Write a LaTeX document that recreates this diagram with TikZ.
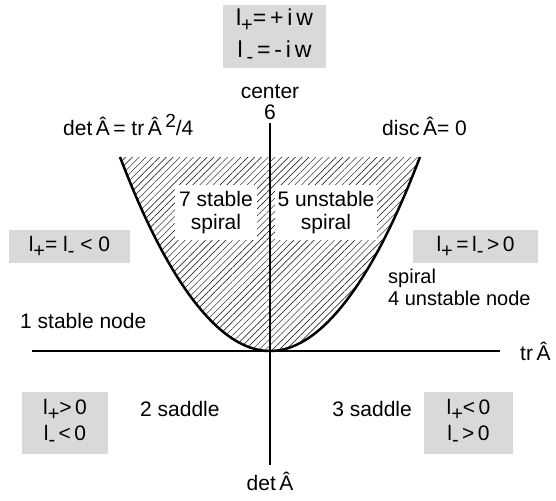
\documentclass[tikz,border=0pt]{standalone}
\usepackage{fontspec}
\setmainfont{Liberation Sans}
\usetikzlibrary{patterns.meta}
\definecolor{boxgray}{RGB}{217,217,217}
\newcommand\lsb[1]{\raisebox{-6pt}{\fontsize{20}{20}\selectfont#1}}
\newcommand\hsp[1]{\raisebox{7pt}{\fontsize{19}{20}\selectfont#1}}
\tikzset{
  lbl/.style={font=\fontsize{21}{24}\selectfont, inner sep=0pt},
  graybox/.style={fill=boxgray, inner sep=0pt, font=\fontsize{21}{26}\selectfont, align=center},
  whitebox/.style={fill=white, inner sep=0pt, font=\fontsize{21}{23}\selectfont, align=center},
  axisline/.style={line width=1.2pt},
  curveline/.style={line width=2.5pt},
}
\begin{document}
\begin{tikzpicture}[x=1pt,y=-1pt]
\useasboundingbox (0,0) rectangle (556,500);
% hatched region
\fill[pattern={Lines[angle=45,distance=4.8pt,line width=0.45pt]}]
  (120,157) parabola bend (270,351) (420,157) -- cycle;
% white label boxes
\node[whitebox, minimum width=82pt, minimum height=55pt] (s7) at (216,212.5) {7 stable\\spiral};
\node[whitebox, minimum width=102pt, minimum height=55pt] (s5) at (326,212.5) {5 unstable\\spiral};
% axes
\coordinate (ytop) at (270,123);
\coordinate (ybot) at (270,465);
\coordinate (xl) at (32,351);
\coordinate (xr) at (500,351);
\draw[axisline] (ytop) -- (ybot);
\draw[axisline] (xl) -- (xr);
% parabola
\coordinate (pl) at (120,157);
\coordinate (pv) at (270,351);
\coordinate (pr) at (420,157);
\draw[curveline] (pl) parabola bend (pv) (pr);
% gray boxes
\node[graybox, minimum width=103pt, minimum height=63pt, font=\fontsize{23}{32}\selectfont] (top) at (274.5,36.5)
  {l\lsb{+}=\,+\,i\,w\\l\,\lsb{-}\,=\,-\,i\,w};
\node[graybox, minimum width=121pt, minimum height=33pt] (lb) at (69.5,246.5)
  {l\lsb{+}= l\lsb{-} < 0};
\node[graybox, minimum width=125pt, minimum height=33pt] (rb) at (475.5,246.5)
  {l\lsb{+}\,=\,l\lsb{-}\,>\,0};
\node[graybox, minimum width=86pt, minimum height=62pt] (bl) at (65,423)
  {l\lsb{+}>\,0\\l\lsb{-}\,<\,0};
\node[graybox, minimum width=89pt, minimum height=62pt] (br) at (468.5,423)
  {l\lsb{+}<\,0\\l\lsb{-}\,>\,0};
% labels
\node[lbl, anchor=base] (cen) at (270,99) {center};
\node[lbl, anchor=base] (six) at (270,120) {6};
\node[lbl, anchor=base west] (det) at (63,135) {det\,Â\,= tr\,Â\,\hsp{2}/4};
\node[lbl, anchor=base west] (disc) at (382,135) {disc\,Â= 0};
\node[lbl, anchor=base west] (n1) at (20,328) {1 stable node};
\node[lbl, anchor=base west, align=left, font=\fontsize{20}{22}\selectfont] (n4) at (388,305) {spiral\\4 unstable node};
\node[lbl, anchor=base west] (tr) at (520,360) {tr\,Â};
\node[lbl, anchor=base west] (sd2) at (140,416) {2 saddle};
\node[lbl, anchor=base east] (sd3) at (412,416) {3 saddle};
\node[lbl, anchor=base] (detb) at (270,490) {det\,Â};
\end{tikzpicture}
\end{document}
